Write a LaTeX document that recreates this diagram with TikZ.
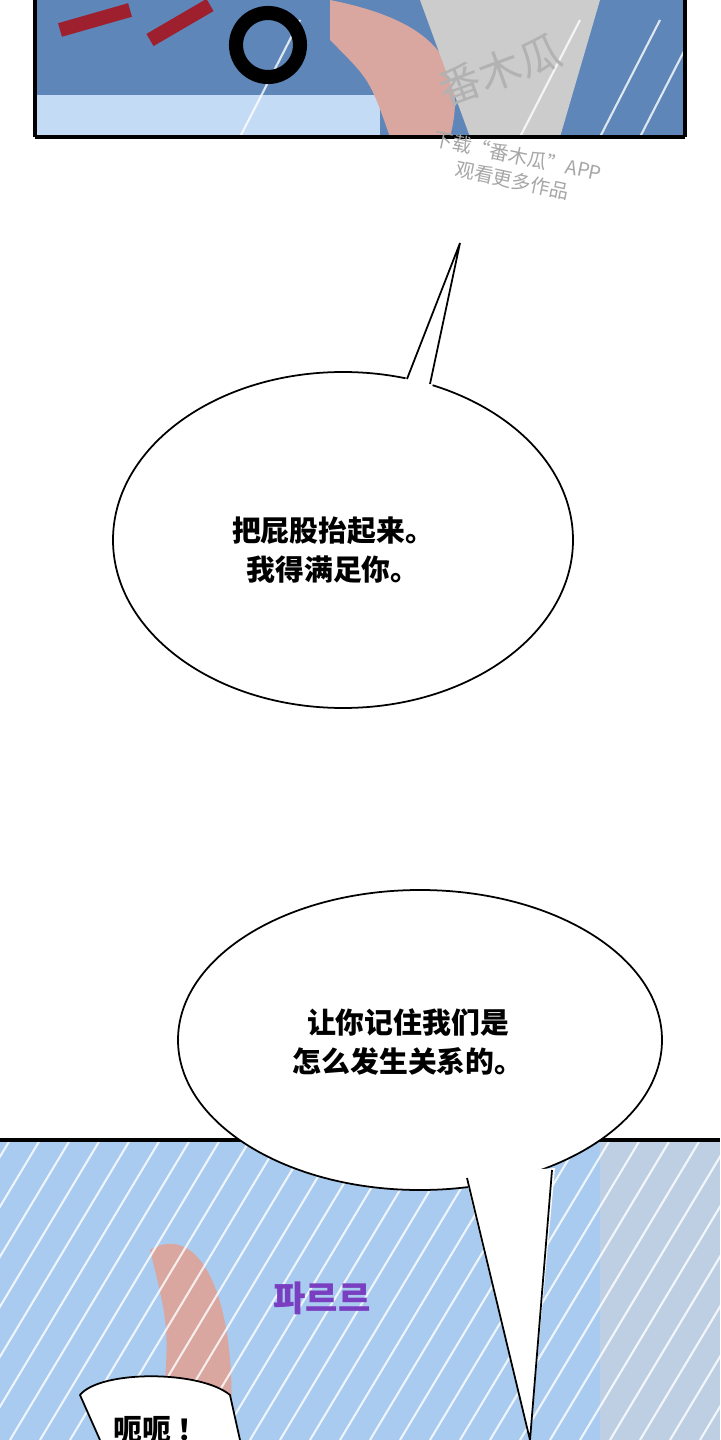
\documentclass[tikz,border=0pt]{standalone}
\usepackage{fontspec}
\newfontfamily\cjk{Noto Sans CJK SC}
\newfontfamily\krfont{Noto Sans CJK KR}
\usetikzlibrary{positioning}
\definecolor{skyblue}{HTML}{A9CBEF}
\definecolor{deepblue}{HTML}{5E86B8}
\definecolor{skin}{HTML}{D9A6A0}
\definecolor{sfxred}{HTML}{9E1F2E}
\definecolor{sfxpurple}{HTML}{7A3FC0}
\begin{document}
\begin{tikzpicture}[x=0.01cm,y=-0.01cm]
\tikzset{
bubble/.style={draw=black, line width=0.5pt, fill=white},
speech/.style={font=\cjk\bfseries\fontsize{8.2}{11}\selectfont, align=center},
panel/.style={draw=black, line width=1pt},
streak/.style={white, line width=0.6pt, opacity=0.8}
}
\useasboundingbox (0,0) rectangle (720,1440);
\fill[white] (0,0) rectangle (720,1440);

% top panel
\fill[deepblue] (35,0) rectangle (685,137);
\fill[skyblue!70] (35,95) rectangle (380,137);
\fill[skin] (330,0) .. controls (430,20) and (470,60) .. (450,137) -- (390,137) .. controls (370,80) .. (330,40) -- cycle;
\fill[gray!40] (420,0) -- (600,0) -- (560,137) -- (470,137) -- cycle;
\foreach \x in {240,520,600,640} \draw[streak] (\x,137) -- (\x+60,20);
\draw[sfxred, line width=4pt] (60,30) -- (130,10) (150,40) -- (210,5);
\draw[black, line width=4pt] (268,45) circle (32);
\draw[panel] (35,137) -- (35,0) (685,0) -- (685,137) (35,137) -- (685,137);
\node[font=\cjk\fontsize{12}{12}\selectfont, text=gray!60, rotate=20] (wm) at (500,70) {番木瓜};
\node[font=\cjk\fontsize{5.5}{7}\selectfont, text=gray!70, rotate=-12, align=center] (wmtext) at (515,168) {下载“番木瓜”APP\\观看更多作品};

% bubble 1
\draw[bubble] (343,540) ellipse (230 and 168);
\coordinate (tip1) at (460,243);
\fill[white] (405,380) -- (tip1) -- (432,388) -- cycle;
\draw[line width=0.5pt] (407,379) -- (tip1) -- (430,384);
\node[speech] (say1) at (333,550) {把屁股抬起来。\\我得满足你。};

% bottom panel
\begin{scope}
\clip (0,1140) rectangle (720,1440);
\fill[skyblue] (0,1140) rectangle (720,1440);
\fill[deepblue!40] (600,1140) rectangle (720,1440);
\fill[skin] (150,1250) .. controls (200,1220) and (240,1300) .. (230,1440) -- (160,1440) .. controls (170,1330) .. (150,1250);
\foreach \x in {-200,-170,...,760} \draw[streak] (\x,1440) -- (\x+180,1140);
\end{scope}
\draw[panel] (0,1140) -- (720,1140);
\node[font=\krfont\bfseries\fontsize{10}{10}\selectfont, text=sfxpurple] (sfx) at (322,1298) {파르르};
\fill[white, draw=black, line width=0.5pt] (100,1440) -- (80,1395) .. controls (100,1370) and (200,1370) .. (230,1395) -- (240,1440);
\node[speech] (say3) at (160,1430) {呃呃 ！};

% bubble 2
\coordinate (tip2) at (530,1440);
\draw[bubble] (420,1040) ellipse (242 and 150);
\fill[white] (465,1175) -- (tip2) -- (555,1168) -- cycle;
\draw[line width=0.5pt] (467,1178) -- (tip2) -- (552,1170);
\node[speech] (say2) at (408,1042) {让你记住我们是\\怎么发生关系的。};
\end{tikzpicture}
\end{document}
